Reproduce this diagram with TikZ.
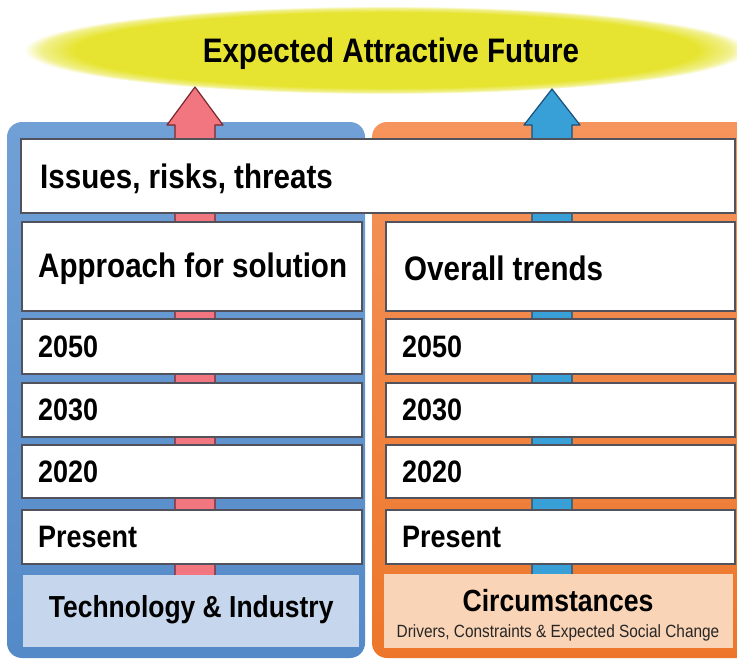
\documentclass[tikz,border=0pt]{standalone}
\usepackage{fontspec}
\setmainfont{Liberation Sans}
\newfontfamily\narrowsans[FakeStretch=0.87]{Liberation Sans}
\usetikzlibrary{shapes.geometric}

% colours
\definecolor{goalyellow}{RGB}{230,228,48}
\definecolor{techblueTop}{RGB}{112,160,214}
\definecolor{techblueBot}{RGB}{84,138,200}
\definecolor{circOrTop}{RGB}{245,148,92}
\definecolor{circOrBot}{RGB}{237,118,42}
\definecolor{techpale}{RGB}{198,214,236}
\definecolor{circpale}{RGB}{250,212,182}
\definecolor{boxline}{RGB}{82,82,92}
\definecolor{arrowpink}{RGB}{241,118,128}
\definecolor{arrowpinkdk}{RGB}{120,40,45}
\definecolor{arrowblue}{RGB}{56,160,215}
\definecolor{arrowbluedk}{RGB}{25,80,120}

% soft-edged yellow ellipse
\pgfdeclareradialshading{goalglow}{\pgfpoint{0bp}{0bp}}{%
  color(0bp)=(goalyellow);
  color(21.5bp)=(goalyellow);
  color(23.8bp)=(goalyellow!55!white);
  color(25bp)=(white);
  color(50bp)=(white)}

\tikzset{
  panel/.style={rounded corners=15pt},
  box/.style={draw=boxline, line width=2pt, fill=white, inner sep=0pt,
    anchor=north west},
  lefttxt/.style={anchor=west, inner sep=0pt},
  bigtxt/.style={font=\narrowsans\fontsize{34}{36}\selectfont\bfseries},
  yeartxt/.style={font=\narrowsans\fontsize{31}{34}\selectfont\bfseries},
  basebox/.style={fill=#1, inner sep=0pt, anchor=north west},
  pinkarrow/.style={fill=arrowpink, draw=arrowpinkdk, line width=1.2pt, line join=round},
  bluearrow/.style={fill=arrowblue, draw=arrowbluedk, line width=1.2pt, line join=round},
}

\begin{document}
\begin{tikzpicture}[x=1pt, y=-1pt]
\useasboundingbox (0,0) rectangle (737,659);
\clip (0,0) rectangle (737,659);

% goal ellipse
\node[ellipse, shading=goalglow, minimum width=724pt, minimum height=88pt,
      inner sep=0pt] (goal) at (386,50) {};
\node[bigtxt] (goaltxt) at (391,54) {Expected Attractive Future};

% two background panels
\shade[panel, top color=techblueTop, bottom color=techblueBot]
  (7,122) rectangle (365,658);
\shade[panel, top color=circOrTop, bottom color=circOrBot]
  (372,122) rectangle (760,658);

% upward arrows running through the stacks
\draw[pinkarrow] (195,87) -- (223,125) -- (215,125) -- (215,576)
  -- (175,576) -- (175,125) -- (167,125) -- cycle;
\draw[bluearrow] (552,89) -- (580,125) -- (572,125) -- (572,576)
  -- (532,576) -- (532,125) -- (524,125) -- cycle;

% full-width top row
\node[box, minimum width=714pt, minimum height=74pt] (issues) at (20,138) {};
\node[lefttxt, bigtxt] (issuestxt) at ([xshift=20pt,yshift=-3pt]issues.west)
  {Issues, risks, threats};

% left stack: technology & industry
\node[box, minimum width=340pt, minimum height=89pt] (approach) at (21,221) {};
\node[box, minimum width=340pt, minimum height=55pt] (l2050) at (21,318) {};
\node[box, minimum width=340pt, minimum height=54pt] (l2030) at (21,382) {};
\node[box, minimum width=340pt, minimum height=53pt] (l2020) at (21,444) {};
\node[box, minimum width=340pt, minimum height=54pt] (lnow) at (21,509) {};
\node[lefttxt, bigtxt] (approachtxt) at ([xshift=17pt,yshift=-2pt]approach.west)
  {Approach for solution};
\node[lefttxt, yeartxt] (l2050txt) at ([xshift=17pt]l2050.west) {2050};
\node[lefttxt, yeartxt] (l2030txt) at ([xshift=17pt]l2030.west) {2030};
\node[lefttxt, yeartxt] (l2020txt) at ([xshift=17pt]l2020.west) {2020};
\node[lefttxt, yeartxt] (lnowtxt) at ([xshift=17pt]lnow.west) {Present};
\node[basebox=techpale, minimum width=336pt, minimum height=72pt]
  (tech) at (23,575) {};
\node[font=\narrowsans\fontsize{30.4}{33}\selectfont\bfseries]
  (techtxt) at ([yshift=1pt]tech.center) {Technology \& Industry};

% right stack: circumstances
\node[box, minimum width=349pt, minimum height=89pt] (trends) at (385,221) {};
\node[box, minimum width=349pt, minimum height=55pt] (r2050) at (385,318) {};
\node[box, minimum width=349pt, minimum height=54pt] (r2030) at (385,382) {};
\node[box, minimum width=349pt, minimum height=53pt] (r2020) at (385,444) {};
\node[box, minimum width=349pt, minimum height=54pt] (rnow) at (385,509) {};
\node[lefttxt, bigtxt] (trendstxt) at ([xshift=19pt,yshift=-2pt]trends.west)
  {Overall trends};
\node[lefttxt, yeartxt] (r2050txt) at ([xshift=17pt]r2050.west) {2050};
\node[lefttxt, yeartxt] (r2030txt) at ([xshift=17pt]r2030.west) {2030};
\node[lefttxt, yeartxt] (r2020txt) at ([xshift=17pt]r2020.west) {2020};
\node[lefttxt, yeartxt] (rnowtxt) at ([xshift=17pt]rnow.west) {Present};
\node[basebox=circpale, minimum width=349pt, minimum height=74pt]
  (circ) at (384,574) {};
\node[font=\narrowsans\fontsize{30.6}{33}\selectfont\bfseries]
  (circtxt) at (558,601) {Circumstances};
\node[font=\narrowsans\fontsize{17.7}{20}\selectfont, text=black!85]
  (circsub) at (558,633) {Drivers, Constraints \& Expected Social Change};
\end{tikzpicture}
\end{document}
